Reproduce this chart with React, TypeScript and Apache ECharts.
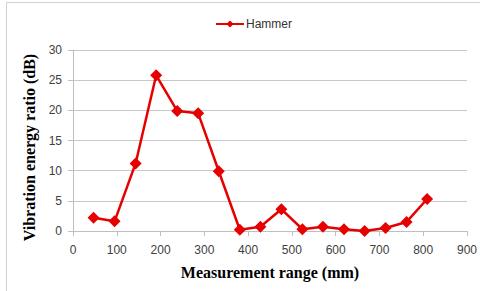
import React, { useEffect, useRef } from "react";
import * as echarts from "echarts";

const seriesName = "Hammer";
const xValues = [47, 95, 143, 190, 238, 286, 333, 381, 428, 476, 524, 571, 619, 666, 714, 762, 809];
const yValues = [2.2, 1.6, 11.2, 25.8, 19.9, 19.5, 9.9, 0.2, 0.7, 3.6, 0.3, 0.7, 0.3, 0.0, 0.5, 1.5, 5.3];
const xTitle = "Measurement range (mm)";
const yTitle = "Vibration energy ratio (dB)";

export default function App() {
  const ref = useRef<HTMLDivElement>(null);
  useEffect(() => {
    if (!ref.current) return;
    const chart = echarts.init(ref.current, undefined, { renderer: "svg" });
    const data = xValues.map((x, i) => [x, yValues[i]]);
    chart.setOption({
      animation: false,
      backgroundColor: "#ffffff",
      graphic: [
        {
          type: "rect",
          shape: { x: 6.5, y: 2.5, width: 500, height: 300 },
          style: { fill: "none", stroke: "#d0d0d0", lineWidth: 1 },
          silent: true,
        },
      ],
      legend: {
        data: [seriesName],
        left: 215,
        top: 18,
        padding: 0,
        itemWidth: 28,
        itemHeight: 9,
        itemGap: 2,
        textStyle: { fontFamily: "Liberation Sans", fontSize: 12, color: "#333333", padding: [0, 0, 0, -3] },
      },
      grid: { left: 73, right: 8, top: 50, bottom: 60, containLabel: false },
      xAxis: {
        type: "value",
        min: 0,
        max: 900,
        interval: 100,
        name: xTitle,
        nameLocation: "middle",
        nameGap: 33,
        nameTextStyle: { fontFamily: "Liberation Serif", fontWeight: "bold", fontSize: 16, color: "#000000" },
        axisLine: { show: true, lineStyle: { color: "#bfbfbf", width: 1 } },
        axisTick: { show: true, length: 5, lineStyle: { color: "#bfbfbf" } },
        axisLabel: { margin: 13, fontFamily: "Liberation Sans", fontSize: 12, color: "#404040" },
        splitLine: { show: false },
      },
      yAxis: {
        type: "value",
        min: 0,
        max: 30,
        interval: 5,
        name: yTitle,
        nameLocation: "middle",
        nameGap: 34,
        nameRotate: 90,
        nameTextStyle: {
          fontFamily: "Liberation Serif",
          fontWeight: "bold",
          fontSize: 16,
          color: "#000000",
          padding: [0, 14, 0, 0],
        },
        axisLine: { show: true, lineStyle: { color: "#bfbfbf", width: 1 } },
        axisTick: { show: true, length: 5, lineStyle: { color: "#bfbfbf" } },
        axisLabel: { margin: 11, fontFamily: "Liberation Sans", fontSize: 12, color: "#404040" },
        splitLine: { show: true, lineStyle: { color: "#c8c8c8", width: 1 } },
      },
      series: [
        {
          name: seriesName,
          type: "line",
          data,
          symbol: "diamond",
          symbolSize: 12,
          lineStyle: { color: "#e60000", width: 2.5 },
          itemStyle: { color: "#e60000" },
        },
      ],
    });
    return () => chart.dispose();
  }, []);
  return <div ref={ref} style={{ width: 480, height: 291, position: "absolute", left: 0, top: 0 }} />;
}
